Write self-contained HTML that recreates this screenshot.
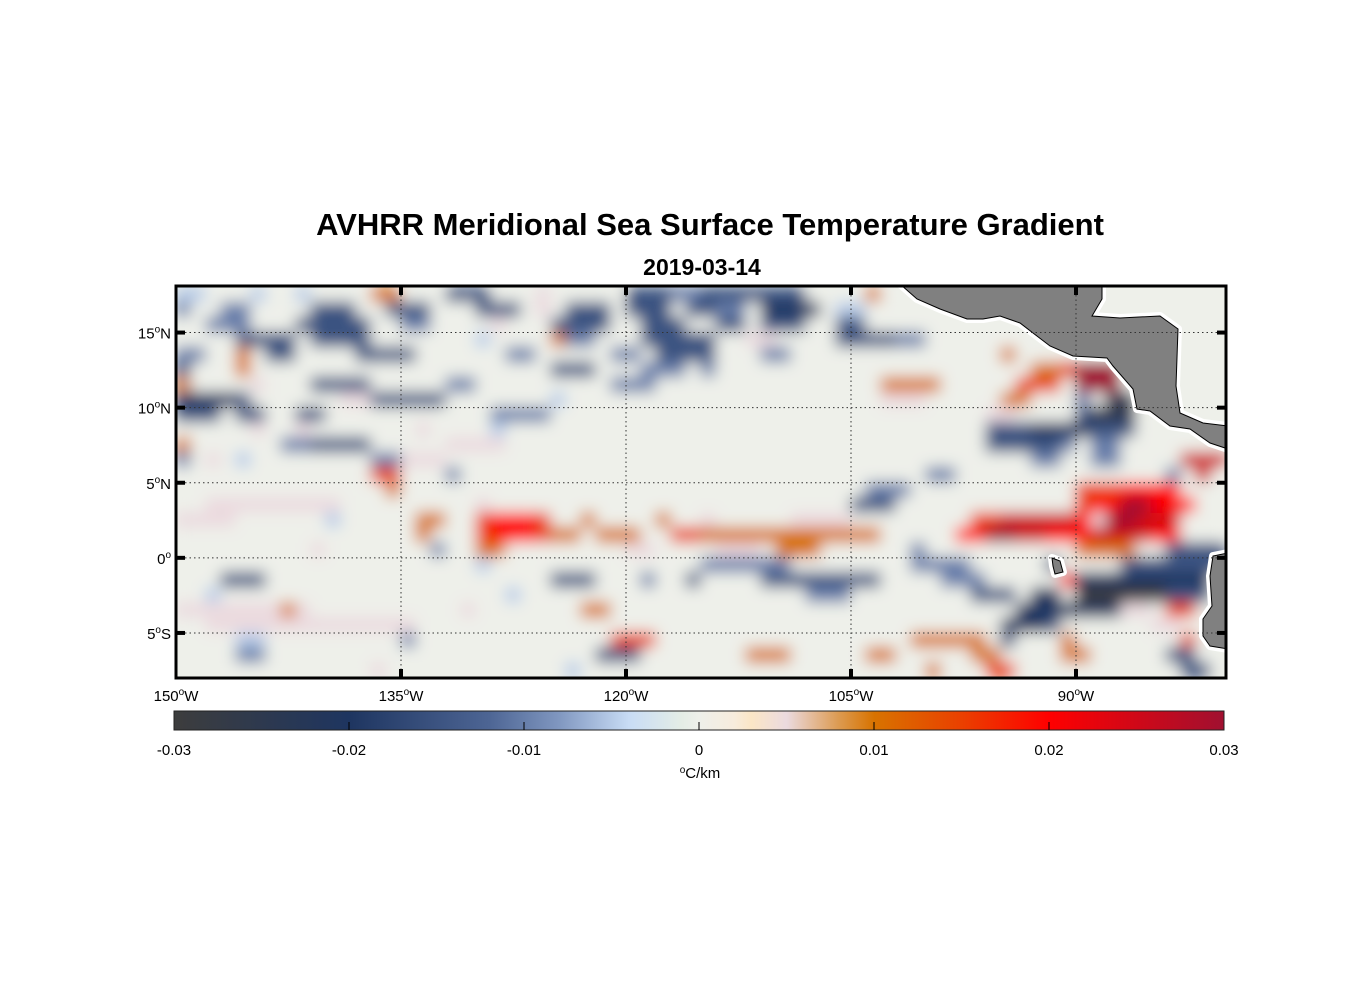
<!DOCTYPE html>
<html><head><meta charset="utf-8"><style>
body{margin:0;background:#fff;width:1356px;height:1000px;overflow:hidden}
svg{display:block}
text{font-family:"Liberation Sans",Arial,sans-serif;fill:#000}
</style></head><body>
<svg id="chart" width="1356" height="1000" viewBox="0 0 1356 1000" xmlns="http://www.w3.org/2000/svg">
<defs>
<clipPath id="mapclip"><rect x="176" y="286" width="1050" height="392"/></clipPath>
<filter id="blur" x="-5%" y="-5%" width="110%" height="110%"><feGaussianBlur stdDeviation="7.5"/></filter>
<linearGradient id="cbgrad" x1="0" x2="1" y1="0" y2="0"></linearGradient>
</defs>
<text x="710" y="235" font-size="31" font-weight="bold" text-anchor="middle">AVHRR Meridional Sea Surface Temperature Gradient</text>
<text x="702" y="275" font-size="23" font-weight="bold" text-anchor="middle">2019-03-14</text>
<rect x="176" y="286" width="1050" height="392" fill="#eef0ea"/>
<g id="heat" clip-path="url(#mapclip)"><g id="cells" filter="url(#blur)"></g></g>
<g id="land" clip-path="url(#mapclip)"></g>
<g id="grid"></g>
<rect x="176" y="286" width="1050" height="392" fill="none" stroke="#000" stroke-width="3"/>
<g id="axes"></g>
<g id="colorbar"></g>
</svg>
<script>
const NS="http://www.w3.org/2000/svg";
// grid rows: 18N..8S (1 deg each), cols 150W..80W (1 deg each), 7 groups of 10 columns
const rows=[
["AA...A..A.","...22...CC","C...1.....","CCCBBCCCCC","CC....2...","..........",".........."],
["B..BB....C","CC..CCC...","CCC.1.CCC.","CCC.CCBB.D","DDD.AA....","..........",".........."],
["..BBB...CC","CCC..BB...",".1...CCCC.",".CCC..CC.C","CC..CC....","..........",".........."],
["....CCCC.C","CCC.......","A....2BB..",".CCCCC..11","....CCCCBB","..........",".........."],
["BB..2.CC..","..CCCC....","..BB.....B","B.CCCC...B","B.........",".....2....",".........."],
["C...2.....","..........",".....CCC..",".BBB.B....","..........",".......223","666......."],
["2....1...C","CCC.....BB",".........B","BB........",".......222","2.....333.","666......."],
["DDDDC.....",".11CCCCC..",".....A....","..........",".......111",".....22...","B.EE......"],
["CCC.CC..CC","..........",".BBBB.....","..........","..........","....11....","CEEE......"],
[".....1..1.","......1...",".A........","..........","..........","....CCCDDD","DCCC......"],
["2......BBC","CCC.....11","11........","..........","..........","....CCCCCB",".BB......."],
["B.1.A.....","...BB111..","..........","..........","..........",".......BB.",".BB....555"],
["..........","...33...B.","..........","..........","..........","BB........","......B.5."],
["..........","....2.....","..........","..........","......BBB.","..........","3334444..."],
["..11111111","1.........","1.........","..........",".....CCC..","..........","34466444.."],
["1111......","A.....22..","34443..2..","..2..1....",".1111.....","...3355555","4166555..."],
["..........","......2...","3444322.22","2..3322222","2222222...","..44665544","4555544..."],
[".........1",".......B..","22........","11....111.","222......B","..........","2222..CCCC"],
["..........","..........","A.........",".....BBBBB","B........B","BBB.....C.","...CCCCCCC"],
["...CCC....","..........",".....CCC..",".B..C....C","CCCCCCC...",".BBB.....4","DDDDDDDDD."],
["..A.......","..........","..A.......","..........","..BBB.....","...CCC.DD.","FFFFFFCCC."],
["111111121.",".........1",".......22.","..........","..........","......DDDD","DDD11.33.."],
["..11111111","111111....","..........","..........","..........",".....DDDC.",".....11..."],
["....AA....",".....B....",".........3","33........",".........2","2222.C...2",".......3.."],
["....BB....","..........","........CC","C.......22","2.....22..","...22....2","2.....CC.."],
["..........","...1......","......A...","..........","..........","2...33....",".......CC."]
];
const codes=["F","E","D","C","B","A",".","1","2","3","4","5","6"];
const codeValues=[-0.03,-0.025,-0.02,-0.015,-0.01,-0.005,0,0.005,0.01,0.015,0.02,0.025,0.03];
const cbTicks=[-0.03,-0.02,-0.01,0,0.01,0.02,0.03];
const cbTickLabels=["-0.03","-0.02","-0.01","0","0.01","0.02","0.03"];
const lonTicks=[-150,-135,-120,-105,-90];
const lonLabels=["150","135","120","105","90"];
const latTicks=[15,10,5,0,-5];
const latLabels=["15","10","5","0","5"];
const latHemi=["N","N","N","","S"];
const cmapStops=[[-0.03,"#3d3d3d"],[-0.02,"#1e3560"],[-0.012,"#4d6594"],[-0.008,"#8097c0"],[-0.004,"#c8dcf5"],[-0.001,"#e4ede6"],[0,"#eef0ea"],[0.002,"#f7ecdd"],[0.003,"#fbe6c6"],[0.005,"#ebdadf"],[0.008,"#dc9a50"],[0.01,"#d87300"],[0.015,"#ea4000"],[0.02,"#ff0000"],[0.03,"#a01030"]];

const LON0=-150,LON1=-80,LAT0=18.1,LAT1=-8;
const X0=176,X1=1226,Y0=286,Y1=678;
function xs(lon){return X0+(lon-LON0)/(LON1-LON0)*(X1-X0);}
function ys(lat){return Y0+(LAT0-lat)/(LAT0-LAT1)*(Y1-Y0);}
function hex(h){return [1,3,5].map(i=>parseInt(h.substr(i,2),16));}
function cmap(v){
  if(v<=cmapStops[0][0])return cmapStops[0][1];
  for(let i=1;i<cmapStops.length;i++){
    if(v<=cmapStops[i][0]){
      const a=cmapStops[i-1],b=cmapStops[i],t=(v-a[0])/(b[0]-a[0]);
      const ca=hex(a[1]),cb=hex(b[1]);
      return "rgb("+ca.map((c,k)=>Math.round(c+(cb[k]-c)*t)).join(",")+")";
    }
  }
  return cmapStops[cmapStops.length-1][1];
}
function el(tag,attrs,parent){const e=document.createElementNS(NS,tag);for(const k in attrs)e.setAttribute(k,attrs[k]);parent.appendChild(e);return e;}

// heatmap
const cells=document.getElementById("cells");
for(let r=0;r<rows.length;r++){
  const lat=18-r;
  const line=rows[r].join("");
  for(let c=0;c<70;c++){
    const ch=line[c]||".";
    const idx=codes.indexOf(ch);
    const v=idx<0?0:codeValues[idx];
    const x=xs(LON0+c),y=ys(lat);
    const rc=el("rect",{x:x-0.5,y:y-0.5,width:xs(LON0+c+1)-x+1,height:ys(lat-1)-y+1,fill:cmap(v)},cells);
    
    
  }
}

// land
const land=document.getElementById("land");
const landShapes=[
"900,284 917,299 940,309 967,319 983,319 1000,316 1020,323 1033,333 1050,346 1073,356 1107,358 1113,366 1133,389 1137,409 1150,411 1170,426 1190,429 1210,443 1228,449 1228,426 1203,423 1180,413 1176,386 1178,329 1160,316 1120,318 1092,316 1102,299 1102,284",
"1228,553 1213,556 1210,576 1212,606 1203,619 1203,636 1210,646 1228,649",
"1052,558 1060,561 1063,572 1055,574 1053,566"];
landShapes.forEach(p=>{
  el("polygon",{points:p,fill:"#fff",stroke:"#fff","stroke-width":8,"stroke-linejoin":"round"},land);
});
landShapes.forEach(p=>{
  const pg=el("polygon",{points:p,fill:"#808080",stroke:"#000","stroke-width":1},land);
  
  
});

// graticule & axes
const grid=document.getElementById("grid"),axes=document.getElementById("axes");
lonTicks.forEach((lon,i)=>{
  const x=xs(lon);
  if(i>0){const g=el("line",{x1:x,x2:x,y1:Y0,y2:Y1,stroke:"#333","stroke-width":1,"stroke-dasharray":"1.5,3"},grid);
  
  el("line",{x1:x,x2:x,y1:Y0,y2:Y0+9,stroke:"#000","stroke-width":4},axes);
  el("line",{x1:x,x2:x,y1:Y1-9,y2:Y1,stroke:"#000","stroke-width":4},axes);}
  const t=el("text",{x:x,y:701,"font-size":15,"text-anchor":"middle"},axes);
  
  t.innerHTML=lonLabels[i]+'<tspan dy="-6" font-size="10">o</tspan><tspan dy="6">W</tspan>';
});
latTicks.forEach((lat,i)=>{
  const y=ys(lat);
  const g=el("line",{x1:X0,x2:X1,y1:y,y2:y,stroke:"#333","stroke-width":1,"stroke-dasharray":"1.5,3"},grid);
  
  el("line",{x1:X0,x2:X0+9,y1:y,y2:y,stroke:"#000","stroke-width":4},axes);
  el("line",{x1:X1-9,x2:X1,y1:y,y2:y,stroke:"#000","stroke-width":4},axes);
  const t=el("text",{x:171,y:y+6,"font-size":15,"text-anchor":"end"},axes);
  
  t.innerHTML=latLabels[i]+'<tspan dy="-6" font-size="10">o</tspan><tspan dy="6">'+latHemi[i]+'</tspan>';
});

// colorbar
const cb=document.getElementById("colorbar");
const CB0=174,CB1=1224,CBY=711,CBH=19;
function cx(v){return CB0+(v-cbTicks[0])/(cbTicks[cbTicks.length-1]-cbTicks[0])*(CB1-CB0);}
const grad=document.getElementById("cbgrad");
cmapStops.forEach(s=>{el("stop",{offset:((s[0]+0.03)/0.06*100)+"%","stop-color":s[1]},grad);});
const bar=el("rect",{x:CB0,y:CBY,width:CB1-CB0,height:CBH,fill:"url(#cbgrad)",stroke:"#222","stroke-width":1},cb);

cbTicks.forEach((v,i)=>{
  const x=cx(v);
  if(i>0&&i<cbTicks.length-1)el("line",{x1:x,x2:x,y1:CBY+CBH-8,y2:CBY+CBH,stroke:"#000","stroke-width":1},cb);
  const t=el("text",{x:x,y:755,"font-size":15,"text-anchor":"middle",fill:"#222"},cb);
  
  t.textContent=cbTickLabels[i];
});
const u=el("text",{x:700,y:778,"font-size":15,"text-anchor":"middle",fill:"#222"},cb);

u.innerHTML='<tspan dy="-5" font-size="10">o</tspan><tspan dy="5">C/km</tspan>';
</script>
</body></html>
